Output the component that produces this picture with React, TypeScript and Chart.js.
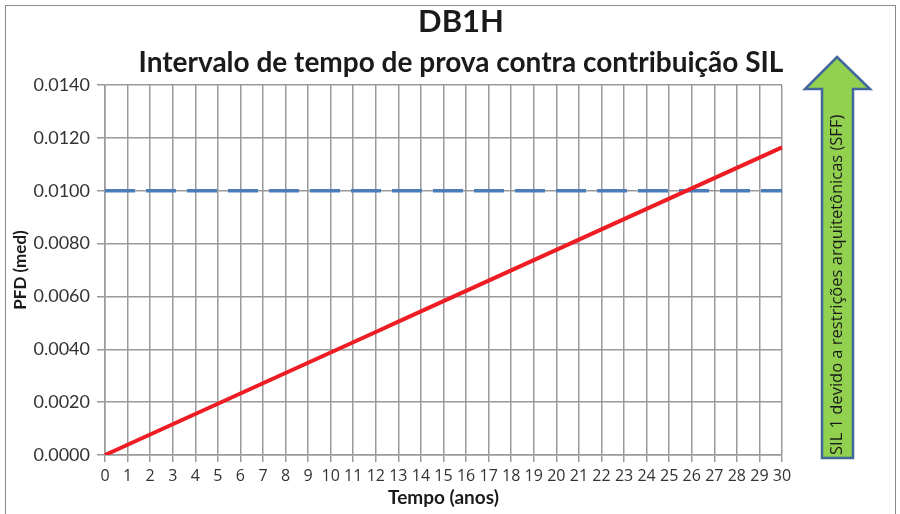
import React, { useEffect, useRef } from 'react';
import { Chart, registerables } from 'chart.js';

Chart.register(...registerables);

const years: string[] = [
  '0', '1', '2', '3', '4', '5', '6', '7', '8', '9', '10', '11', '12', '13', '14', '15',
  '16', '17', '18', '19', '20', '21', '22', '23', '24', '25', '26', '27', '28', '29', '30',
];

const pfdValues: number[] = [
  0.0, 0.000388, 0.000776, 0.001164, 0.001552, 0.00194, 0.002328, 0.002716, 0.003104, 0.003492,
  0.00388, 0.004268, 0.004656, 0.005044, 0.005432, 0.00582, 0.006208, 0.006596, 0.006984, 0.007372,
  0.00776, 0.008148, 0.008536, 0.008924, 0.009312, 0.0097, 0.010088, 0.010476, 0.010864, 0.011252,
  0.01164,
];

const silLimit: number[] = [
  0.01, 0.01, 0.01, 0.01, 0.01, 0.01, 0.01, 0.01, 0.01, 0.01, 0.01, 0.01, 0.01, 0.01, 0.01, 0.01,
  0.01, 0.01, 0.01, 0.01, 0.01, 0.01, 0.01, 0.01, 0.01, 0.01, 0.01, 0.01, 0.01, 0.01, 0.01,
];

const yTickLabels: string[] = ['0.0000', '0.0020', '0.0040', '0.0060', '0.0080', '0.0100', '0.0120', '0.0140'];

const titleLines: string[] = ['DB1H', 'Intervalo de tempo de prova contra contribuição SIL'];
const xTitle = 'Tempo (anos)';
const yTitle = 'PFD (med)';
const arrowText = 'SIL 1 devido a restrições arquitetônicas (SFF)';

const decorPlugin = {
  id: 'decor',
  afterDraw(chart: any) {
    const ctx = chart.ctx as CanvasRenderingContext2D;
    ctx.save();
    // titles
    ctx.fillStyle = '#1a1a1a';
    ctx.textAlign = 'center';
    ctx.textBaseline = 'middle';
    ctx.font = 'bold 31px Lato';
    ctx.fillText(titleLines[0], 461, 22);
    ctx.font = 'bold 28px Lato';
    ctx.fillText(titleLines[1], 461, 63);

    // arrow
    ctx.beginPath();
    ctx.moveTo(837, 57);
    ctx.lineTo(870, 89);
    ctx.lineTo(853, 89);
    ctx.lineTo(853, 458);
    ctx.lineTo(822, 458);
    ctx.lineTo(822, 89);
    ctx.lineTo(805, 89);
    ctx.closePath();
    ctx.fillStyle = '#92d050';
    ctx.fill();
    ctx.lineWidth = 2.5;
    ctx.strokeStyle = '#41679b';
    ctx.lineJoin = 'miter';
    ctx.stroke();

    // arrow text
    ctx.translate(837, 455);
    ctx.rotate(-Math.PI / 2);
    ctx.textAlign = 'left';
    ctx.textBaseline = 'middle';
    ctx.fillStyle = '#1a1a1a';
    ctx.font = '16.5px "Open Sans"';
    ctx.fillText(arrowText, 0, 0);
    ctx.restore();
  },
};

export default function App() {
  const canvasRef = useRef<HTMLCanvasElement | null>(null);

  useEffect(() => {
    if (!canvasRef.current) return;
    const chart = new Chart(canvasRef.current, {
      type: 'line',
      data: {
        labels: years,
        datasets: [
          {
            label: 'PFD',
            data: pfdValues,
            borderColor: '#ee1d24',
            borderWidth: 4,
            pointRadius: 0,
            fill: false,
            tension: 0,
          },
          {
            label: 'SIL',
            data: silLimit,
            borderColor: '#4a7ebb',
            borderWidth: 3.5,
            borderDash: [30, 11],
            pointRadius: 0,
            fill: false,
            tension: 0,
          },
        ],
      },
      options: {
        animation: false,
        responsive: false,
        devicePixelRatio: 1,
        layout: { padding: { top: 85, left: 0, right: 118, bottom: 0 } },
        plugins: {
          legend: { display: false },
          tooltip: { enabled: false },
          title: { display: false },
        },
        scales: {
          x: {
            type: 'category',
            offset: false,
            afterFit: (s: any) => {
              s.height = 59;
            },
            grid: { color: '#9a9a9a', lineWidth: 1.5, tickLength: 7, drawTicks: true },
            border: { display: true, color: '#9a9a9a', width: 1.5 },
            ticks: {
              autoSkip: false,
              maxRotation: 0,
              minRotation: 0,
              color: '#333',
              padding: 5,
              font: { family: 'Open Sans', size: 16 },
            },
            title: {
              display: true,
              text: xTitle,
              color: '#1a1a1a',
              font: { family: 'Lato', size: 19, weight: 'bold' },
              padding: { top: 0, bottom: 5 },
            },
          },
          y: {
            min: 0,
            max: 0.014,
            afterFit: (s: any) => {
              s.width = 105;
            },
            grid: { color: '#9a9a9a', lineWidth: 1.5, tickLength: 8, drawTicks: true },
            border: { display: true, color: '#9a9a9a', width: 1.5 },
            ticks: {
              stepSize: 0.002,
              color: '#333',
              padding: 7,
              font: { family: 'Lato', size: 18 },
              callback: (_v: any, i: number) => yTickLabels[i],
            },
            title: {
              display: true,
              text: yTitle,
              color: '#1a1a1a',
              font: { family: 'Lato', size: 17, weight: 'bold' },
              padding: { top: 10, bottom: 0 },
            },
          },
        },
      },
      plugins: [decorPlugin],
    });
    return () => chart.destroy();
  }, []);

  return (
    <div style={{ position: 'fixed', left: 0, top: 0, width: 900, height: 514, background: '#fff', overflow: 'hidden' }}>
      <div
        style={{
          position: 'absolute',
          left: 5,
          top: 5,
          width: 891,
          height: 530,
          border: '1.5px solid #8a8a8a',
          boxSizing: 'border-box',
        }}
      />
      <canvas ref={canvasRef} width={900} height={514} style={{ position: 'absolute', left: 0, top: 0 }} />
    </div>
  );
}
